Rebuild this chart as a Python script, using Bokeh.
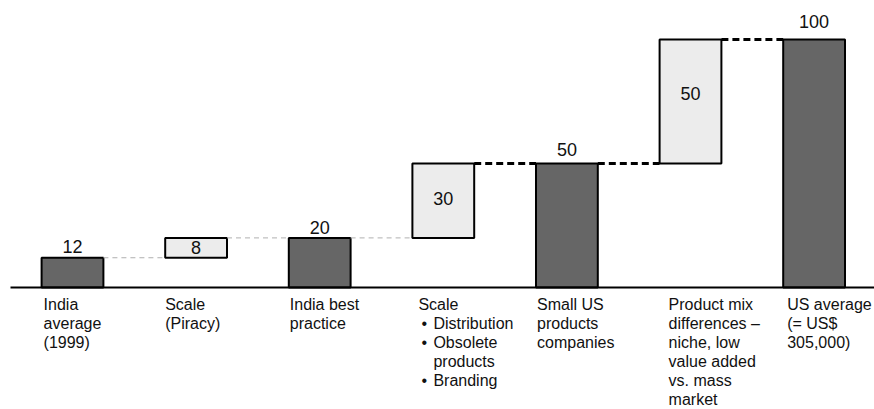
from bokeh.plotting import figure
from bokeh.models import Range1d, ColumnDataSource
from bokeh.embed import file_html
from bokeh.resources import INLINE
from bokeh.core.properties import value

# ---------------- data ----------------
categories = ["India average (1999)", "Scale (Piracy)", "India best practice",
              "Scale", "Small US products companies",
              "Product mix differences", "US average"]
values = [12, 8, 20, 30, 50, 50, 100]
kinds = ["total", "step", "total", "step", "total", "step", "total"]
label_lines = [
    ["India", "average", "(1999)"],
    ["Scale", "(Piracy)"],
    ["India best", "practice"],
    ["Scale", "\u2022 Distribution", "\u2022 Obsolete", "  products", "\u2022 Branding"],
    ["Small US", "products", "companies"],
    ["Product mix", "differences \u2013", "niche, low", "value added", "vs. mass", "market"],
    ["US average", "(= US$", "305,000)"],
]

# ---------------- layout constants ----------------
W, H = 874, 409
BASE_PX = 287          # pixel row of the zero line
PX_PER_UNIT = 2.48     # vertical scale
X0_PX = 72             # pixel centre of first bar
STEP_PX = 123.6        # pixel distance between bars
BAR_W = 0.5
FONT = value("Liberation Sans")
DARK = "#666666"
LIGHT = "#ececec"

x_start = -X0_PX / STEP_PX
x_end = x_start + W / STEP_PX
y_top = BASE_PX / PX_PER_UNIT
y_bot = -(H - BASE_PX) / PX_PER_UNIT

def dy(px):
    return px / PX_PER_UNIT

def dx(px):
    return px / STEP_PX

# waterfall geometry
bottoms, tops = [], []
level = 0
for v, k in zip(values, kinds):
    if k == "total":
        b, t = 0, v
    else:
        b, t = level, level + v
    bottoms.append(b)
    tops.append(t)
    level = t
xs = list(range(len(values)))

p = figure(width=W, height=H, output_backend="svg", toolbar_location=None,
           x_range=Range1d(x_start, x_end), y_range=Range1d(y_bot, y_top),
           min_border=0, min_border_left=0, min_border_right=0,
           min_border_top=0, min_border_bottom=0)
p.axis.visible = False
p.grid.visible = False
p.outline_line_color = None
p.background_fill_color = "white"
p.border_fill_color = "white"

src = ColumnDataSource(dict(
    x=xs, bottom=bottoms, top=tops,
    color=[DARK if k == "total" else LIGHT for k in kinds],
))
p.vbar(x="x", bottom="bottom", top="top", width=BAR_W, fill_color="color",
       line_color="black", line_width=2, source=src)

# connectors
for i in range(len(values) - 1):
    lvl = tops[i]
    if i < 3:
        p.segment(x0=[xs[i] + BAR_W / 2], y0=[lvl], x1=[xs[i + 1] - BAR_W / 2], y1=[lvl],
                  line_color="#b0b0b0", line_width=1, line_dash="5 4")
    else:
        p.segment(x0=[xs[i] + BAR_W / 2], y0=[lvl], x1=[xs[i + 1] - BAR_W / 2], y1=[lvl],
                  line_color="black", line_width=3, line_dash="7 4")

# baseline
p.segment(x0=[x_start + dx(10)], y0=[0], x1=[x_end], y1=[0], line_color="black", line_width=2)

# value labels (centre of text, pixels above bar top / shift from bar middle)
above_center = {0: 11, 2: 10, 4: 14, 6: 18}
inside_shift = {1: 0, 3: 2, 5: 8}
vx, vy, vt = [], [], []
for i, (v, k) in enumerate(zip(values, kinds)):
    if k == "total":
        vx.append(xs[i]); vy.append(tops[i] + dy(above_center[i])); vt.append(str(v))
    else:
        vx.append(xs[i]); vy.append((bottoms[i] + tops[i]) / 2 + dy(inside_shift[i])); vt.append(str(v))
p.text(x=vx, y=vy, text=vt, text_font=FONT, text_font_size="18px",
       text_align="center", text_baseline="middle", text_color="#111111")

# category labels
label_off_px = [2, 0, 1, 6, 1, 9, 4]
LINE_PX = 19
FIRST_PX = 8
BULLET_INDENT = 15
lx, ly, lt = [], [], []
bx, by = [], []
for i, lines in enumerate(label_lines):
    left = xs[i] - BAR_W / 2 + dx(label_off_px[i])
    for j, line in enumerate(lines):
        y = -dy(FIRST_PX + LINE_PX * j)
        if line.startswith("\u2022 "):
            bx.append(left + dx(3)); by.append(y)
            lx.append(left + dx(BULLET_INDENT)); ly.append(y); lt.append(line[2:])
        elif line.startswith("  "):
            lx.append(left + dx(BULLET_INDENT)); ly.append(y); lt.append(line.strip())
        else:
            lx.append(left); ly.append(y); lt.append(line)
p.text(x=lx, y=ly, text=lt, text_font=FONT, text_font_size="16px",
       text_align="left", text_baseline="top", text_color="#111111")
p.text(x=bx, y=by, text=["\u2022"] * len(bx), text_font=FONT, text_font_size="16px",
       text_align="left", text_baseline="top", text_color="#111111")

open("out.html", "w").write(file_html(p, INLINE))
